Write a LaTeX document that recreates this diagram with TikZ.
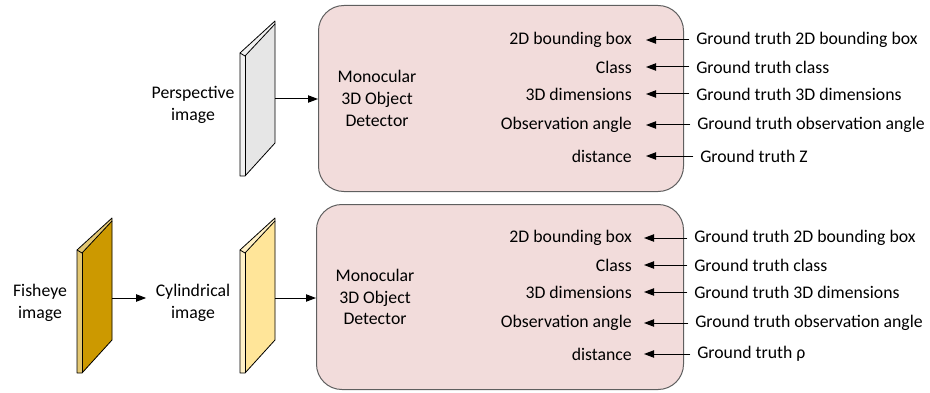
\documentclass[tikz,border=0pt]{standalone}
\usepackage{fontspec}
\setmainfont{Carlito}
\usetikzlibrary{arrows.meta}

\definecolor{boxfill}{HTML}{F2DCDB}
\definecolor{boxline}{HTML}{5F5F5F}
\definecolor{perspfill}{HTML}{E6E6E6}
\definecolor{fishfill}{HTML}{CC9900}
\definecolor{cylfill}{HTML}{FFE599}

\tikzset{
  x=0.75pt, y=-0.75pt,
  txt/.style={font=\fontsize{13.3}{16.2}\selectfont, inner sep=0pt, align=center},
  detector/.style={draw=boxline, fill=boxfill, line width=0.75pt,
    rounded corners=19pt, anchor=north west, inner sep=0pt},
  arr/.style={draw=black, line width=0.75pt, -{Triangle[length=7.5pt,width=5.5pt]}},
  plateline/.style={draw=black, line width=0.6pt, line join=round}
}

% a thin slanted image plate: #1 = left x, #2 = top y, #3 = fill colour
\newcommand{\imgplate}[3]{%
  \fill[#3!55!white] (#1,#2+32) -- (#1+35,#2) -- (#1+35,#2+122) -- (#1+5,#2+155) -- (#1,#2+155) -- cycle;
  \fill[#3] (#1+5,#2+35) -- (#1+35,#2+3) -- (#1+35,#2+122) -- (#1+5,#2+155) -- cycle;
  \draw[plateline] (#1,#2+32) -- (#1+35,#2) -- (#1+35,#2+122) -- (#1+5,#2+155) -- (#1,#2+155) -- cycle;
  \draw[plateline] (#1,#2+32) -- (#1+5,#2+35) -- (#1+35,#2+3);
  \draw[plateline] (#1+5,#2+35) -- (#1+5,#2+155);
}

\begin{document}
\begin{tikzpicture}
\useasboundingbox (0,0) rectangle (930,392);

% ---------- upper pipeline: perspective image ----------
\imgplate{240}{21}{perspfill}
\coordinate (pout) at (275,99);
\node[txt] (plabel) at (193,105) {Perspective\\image};

\node[detector, minimum width=273.75pt, minimum height=139.5pt] (det1) at (318,5) {};
\node[txt] (det1t) at (377,98.5) {Monocular\\3D Object\\Detector};
\draw[arr] (pout) -- (pout -| det1.west);

% ---------- lower pipeline: fisheye -> cylindrical ----------
\imgplate{77}{218}{fishfill}
\coordinate (fout) at (112,298);
\node[txt] (flabel) at (40,303) {Fisheye\\image};
\node[txt] (clabel) at (193,303) {Cylindrical\\image};
\draw[arr] (fout) -- ([xshift=-7pt]clabel.west |- fout);

\imgplate{240}{218}{cylfill}
\coordinate (cout) at (275,298);

\node[detector, minimum width=275.25pt, minimum height=138.75pt] (det2) at (316,204) {};
\node[txt] (det2t) at (375,297) {Monocular\\3D Object\\Detector};
\draw[arr] (cout) -- (cout -| det2.west);

% ---------- outputs and their ground truth ----------
\foreach \name/\yy/\out/\gt/\gx in {
    a/40/2D bounding box/Ground truth 2D bounding box/696,
    b/67/Class/Ground truth class/696,
    c/94/3D dimensions/Ground truth 3D dimensions/696,
    d/125/Observation angle/Ground truth observation angle/697,
    e/156/distance/Ground truth Z/700}{
  \node[txt, anchor=east] (o1\name) at (632,\yy) {\out};
  \node[txt, anchor=west] (g1\name) at (\gx,\yy) {\gt};
  \coordinate (t1\name) at (646,\yy);
  \draw[arr] ([xshift=-5pt]g1\name.west) -- (t1\name);
}

\foreach \name/\yy/\out/\gt/\gx in {
    a/238/2D bounding box/Ground truth 2D bounding box/694,
    b/265/Class/Ground truth class/694,
    c/292/3D dimensions/Ground truth 3D dimensions/694,
    d/323/Observation angle/Ground truth observation angle/695,
    e/354/distance/Ground truth ρ/697}{
  \node[txt, anchor=east] (o2\name) at (632,\yy) {\out};
  \node[txt, anchor=west] (g2\name) at (\gx,\yy) {\gt};
  \coordinate (t2\name) at (644,\yy);
  \draw[arr] ([xshift=-5pt]g2\name.west) -- (t2\name);
}
\end{tikzpicture}
\end{document}
